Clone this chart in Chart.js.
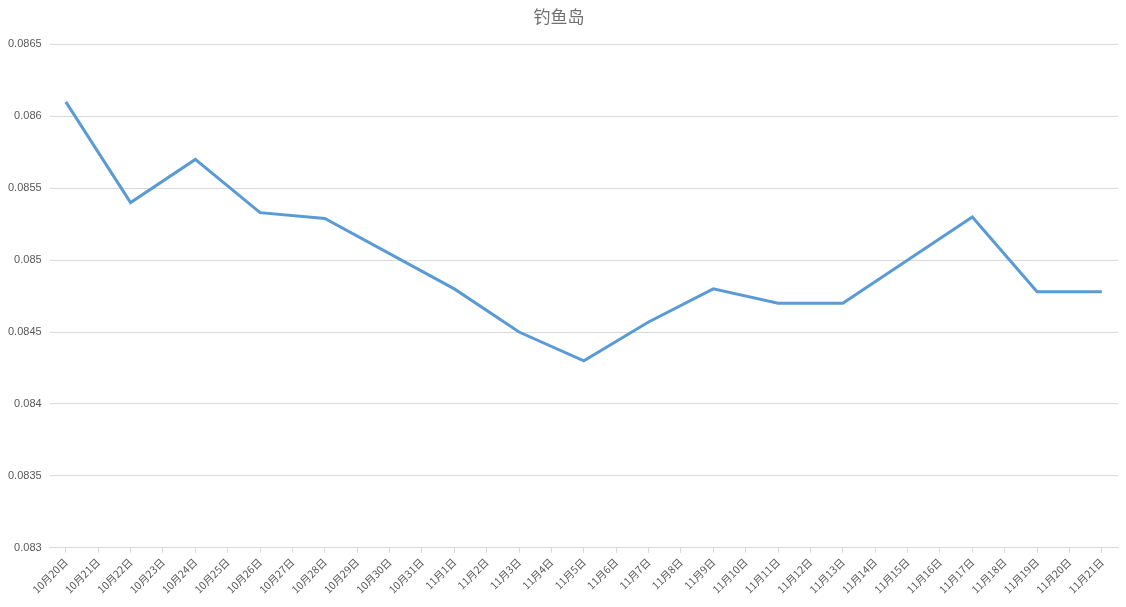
<!DOCTYPE html>
<html>
<head>
<meta charset="utf-8">
<script src="https://cdn.jsdelivr.net/npm/chart.js@4/dist/chart.umd.min.js"></script>
<style>
  html, body { margin: 0; padding: 0; background: #fff; }
  #wrap { width: 1126px; height: 607px; }
</style>
</head>
<body>
<div id="wrap"><canvas id="chart"></canvas></div>
<script>
// categories: 10/20..10/31 then 11/1..11/21
const days = [];
for (let d = 20; d <= 31; d++) days.push('10月' + d + '日');
for (let d = 1; d <= 21; d++) days.push('11月' + d + '日');

// readings taken every other day, gaps joined by straight lines
const rate = [
  0.0861, null, 0.0854, null, 0.0857, null, 0.08533, null, 0.08529, null, null, null,
  0.0848, null, 0.0845, null, 0.0843, null, 0.08457, null, 0.0848, null, 0.0847, null,
  0.0847, null, null, null, 0.0853, null, 0.08478, null, 0.08478
];

new Chart(document.getElementById('chart'), {
  type: 'line',
  data: {
    labels: days,
    datasets: [{
      label: '钓鱼岛',
      data: rate,
      borderColor: '#5b9bd5',
      borderWidth: 3,
      pointRadius: 0,
      spanGaps: true,
      tension: 0
    }]
  },
  options: {
    responsive: true,
    maintainAspectRatio: false,
    animation: false,
    layout: { padding: { left: 0, right: 8, top: 0, bottom: 8 } },
    plugins: {
      legend: { display: false },
      title: {
        display: true,
        text: '钓鱼岛',
        color: '#707070',
        font: { family: 'Noto Sans CJK SC', size: 17, weight: 'normal' },
        padding: { top: 6, bottom: 18 }
      },
      tooltip: { enabled: false }
    },
    scales: {
      x: {
        offset: true,
        grid: { display: true, drawOnChartArea: false, color: '#d9d9d9', tickLength: 5 },
        border: { color: '#d9d9d9' },
        ticks: {
          autoSkip: false,
          maxRotation: 45,
          minRotation: 45,
          color: '#595959',
          font: { family: 'Noto Sans CJK SC', size: 10.5 }
        }
      },
      y: {
        min: 0.083,
        max: 0.0865,
        grid: { color: '#d9d9d9', drawTicks: false },
        border: { display: false },
        ticks: {
          stepSize: 0.0005,
          padding: 8,
          color: '#595959',
          font: { family: 'Liberation Sans', size: 11 },
          callback: v => String(Number(v.toFixed(4)))
        }
      }
    }
  }
});
</script>
</body>
</html>
